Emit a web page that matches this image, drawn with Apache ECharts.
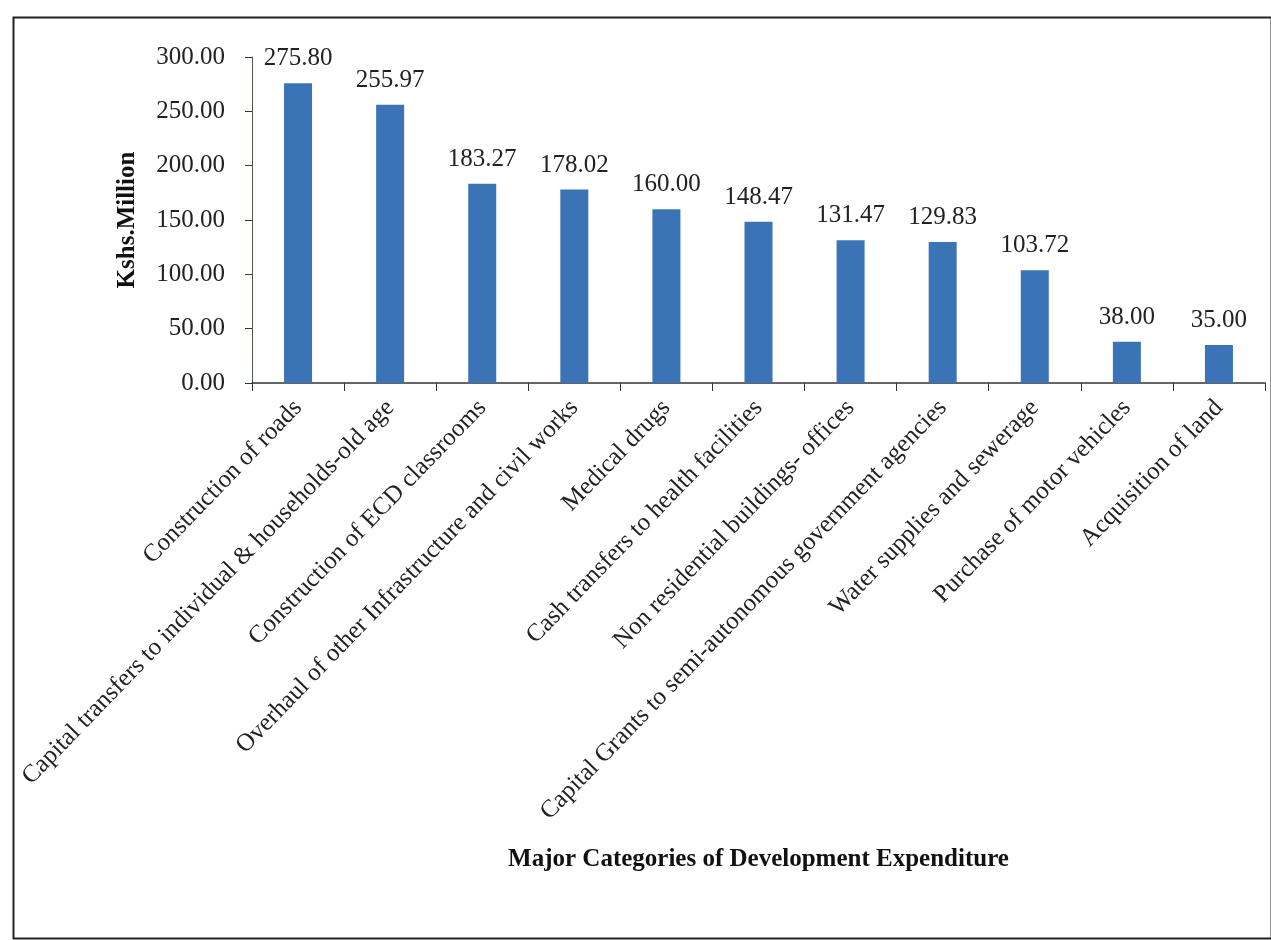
<!DOCTYPE html>
<html><head><meta charset="utf-8">
<script src="https://cdn.jsdelivr.net/npm/echarts@6/dist/echarts.min.js"></script>
<style>html,body{margin:0;padding:0;background:#fff}#c{width:1271px;height:940px}</style>
</head><body><div id="c"></div>
<script>
const categories = [
  "Construction of roads",
  "Capital transfers to individual & households-old age",
  "Construction of ECD classrooms",
  "Overhaul of other Infrastructure and civil works",
  "Medical drugs",
  "Cash transfers to health facilities",
  "Non residential buildings- offices",
  "Capital Grants to semi-autonomous government agencies",
  "Water supplies and sewerage",
  "Purchase of motor vehicles",
  "Acquisition of land"
];
const values = [275.80, 255.97, 183.27, 178.02, 160.00, 148.47, 131.47, 129.83, 103.72, 38.00, 35.00];
const yTicks = [0, 50, 100, 150, 200, 250, 300];

const font = "'Liberation Serif', 'Times New Roman', serif";
const chart = echarts.init(document.getElementById('c'), null, {renderer: 'canvas'});
chart.setOption({
  animation: false,
  backgroundColor: '#fff',
  graphic: [{
    type: 'rect', left: 11, top: 15, shape: {width: 1258, height: 921},
    style: {fill: 'none', stroke: '#222', lineWidth: 2}, silent: true
  }],
  grid: {left: 252, top: 57, right: 6, bottom: 557, containLabel: false},
  xAxis: {
    type: 'category',
    data: categories,
    boundaryGap: true,
    axisLine: {lineStyle: {color: '#333', width: 1.5}},
    axisTick: {show: true, alignWithLabel: false, length: 8, lineStyle: {color: '#333'}},
    axisLabel: {rotate: 46, interval: 0, margin: 21, color: '#222', fontFamily: font, fontSize: 25},
    name: 'Major Categories of Development Expenditure',
    nameLocation: 'middle',
    nameGap: 464,
    nameTextStyle: {fontFamily: font, fontWeight: 'bold', fontSize: 25, color: '#111'}
  },
  yAxis: {
    type: 'value',
    min: 0, max: 300, interval: 50,
    axisLine: {show: true, lineStyle: {color: '#4a5a4a', width: 1}},
    axisTick: {show: true, length: 7, lineStyle: {color: '#333'}},
    splitLine: {show: false},
    axisLabel: {margin: 27, color: '#222', fontFamily: font, fontSize: 25,
      formatter: v => yTicks.includes(v) ? v.toFixed(2) : ''},
    name: 'Kshs.Million',
    nameLocation: 'middle',
    nameRotate: 90,
    nameGap: 112,
    nameTextStyle: {fontFamily: font, fontWeight: 'bold', fontSize: 25, color: '#111'}
  },
  series: [{
    type: 'bar',
    data: values,
    barWidth: 28,
    itemStyle: {color: '#3a74b7'},
    label: {show: true, position: 'top', distance: 12, color: '#222', fontFamily: font, fontSize: 25,
      formatter: p => p.value.toFixed(2)}
  }]
});
</script></body></html>
